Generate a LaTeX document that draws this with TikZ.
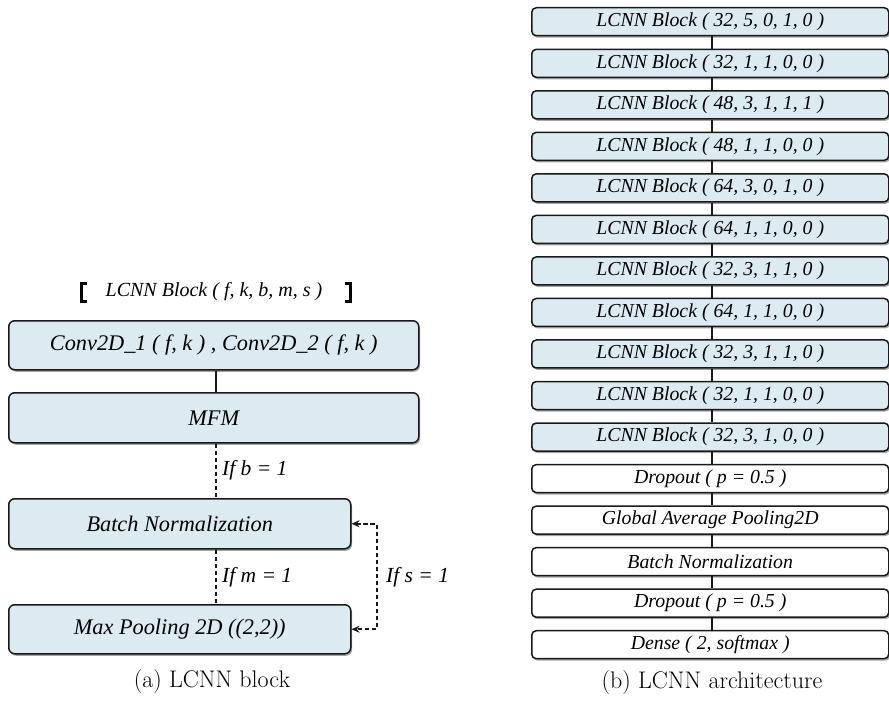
\documentclass[tikz,border=0pt]{standalone}
\usepackage{fontspec}
\newfontfamily\figfont{Liberation Serif}
\usetikzlibrary{shadows,arrows.meta}
\definecolor{blockfill}{RGB}{220,234,242}
\definecolor{edgecol}{RGB}{25,25,25}
\begin{document}
\begin{tikzpicture}[x=1pt,y=-1pt,
  boxbase/.style={draw=edgecol, line width=1.5pt, inner sep=0pt, anchor=north west,
    drop shadow={shadow xshift=1.3pt, shadow yshift=-2pt, opacity=0.5, fill=black!70}},
  leftbox/.style={boxbase, rounded corners=6pt, fill=blockfill,
    font=\figfont\itshape\fontsize{22.3}{26}\selectfont},
  archbox/.style={boxbase, rounded corners=4.5pt, minimum width=357pt, minimum height=28pt,
    font=\figfont\itshape\fontsize{19.8}{22}\selectfont},
  link/.style={draw=edgecol, line width=2pt},
  condlink/.style={link, dashed, dash pattern=on 4.5pt off 2.5pt},
  condlabel/.style={font=\figfont\itshape\fontsize{21.5}{24}\selectfont, anchor=west, inner sep=0pt},
  bracket/.style={draw=black, line width=3.4pt},
  captext/.style={font=\fontsize{24}{28}\selectfont}
]
\useasboundingbox (0,0) rectangle (889,709);

% ---------- (a) LCNN block ----------
\node[font=\figfont\itshape\fontsize{20}{24}\selectfont] (title) at (214,292)
  {LCNN Block ( f, k, b, m, s )};
\draw[bracket] (87,283.5) -- (81.5,283.5) -- (81.5,301.5) -- (87,301.5);
\draw[bracket] (345,283.5) -- (350.5,283.5) -- (350.5,301.5) -- (345,301.5);

\node[leftbox, minimum width=410pt, minimum height=49pt] (conv) at (8,320)
  {Conv2D\_1 ( f, k ) , Conv2D\_2 ( f, k )};
\node[leftbox, minimum width=410pt, minimum height=50pt] (mfm) at (8,392) {MFM};
\node[leftbox, minimum width=342pt, minimum height=50pt] (bn) at (8,498) {Batch Normalization};
\node[leftbox, minimum width=342pt, minimum height=49pt] (mp) at (8,604) {Max Pooling 2D ((2,2))};

\coordinate (trunk) at (216,0);
\draw[link] (trunk |- conv.south) -- (trunk |- mfm.north);
\draw[condlink] (trunk |- mfm.south) -- (trunk |- bn.north);
\draw[condlink] (trunk |- bn.south) -- (trunk |- mp.north);
\node[condlabel] (lb) at (222,470) {If b = 1};
\node[condlabel] (lm) at (222,577) {If m = 1};

\draw[condlink, {Stealth[length=8pt,width=7pt]}-{Stealth[length=8pt,width=7pt]}]
  (bn.east) -- ++(25,0) |- (mp.east);
\node[condlabel] (ls) at (386,577) {If s = 1};

\node[captext] (capa) at (212,682) {(a) LCNN block};

% ---------- (b) LCNN architecture ----------
\foreach \lbl [count=\i from 0] in {
  {LCNN Block ( 32, 5, 0, 1, 0 )},
  {LCNN Block ( 32, 1, 1, 0, 0 )},
  {LCNN Block ( 48, 3, 1, 1, 1 )},
  {LCNN Block ( 48, 1, 1, 0, 0 )},
  {LCNN Block ( 64, 3, 0, 1, 0 )},
  {LCNN Block ( 64, 1, 1, 0, 0 )},
  {LCNN Block ( 32, 3, 1, 1, 0 )},
  {LCNN Block ( 64, 1, 1, 0, 0 )},
  {LCNN Block ( 32, 3, 1, 1, 0 )},
  {LCNN Block ( 32, 1, 1, 0, 0 )},
  {LCNN Block ( 32, 3, 1, 0, 0 )},
  {Dropout ( p = 0.5 )},
  {Global Average Pooling2D},
  {Batch Normalization},
  {Dropout ( p = 0.5 )},
  {Dense ( 2, softmax )}} {
  \ifnum\i<11 \def\boxfill{blockfill}\else \def\boxfill{white}\fi
  \node[archbox, fill=\boxfill] (r\i) at (531, 7+41.53*\i) {\lbl};
}
\coordinate (spine) at (712,0);
\foreach \i [evaluate=\i as \j using int(\i+1)] in {0,...,14}
  \draw[link] (spine |- r\i.south) -- (spine |- r\j.north);

\node[captext] (capb) at (712,683) {(b) LCNN architecture};
\end{tikzpicture}
\end{document}
